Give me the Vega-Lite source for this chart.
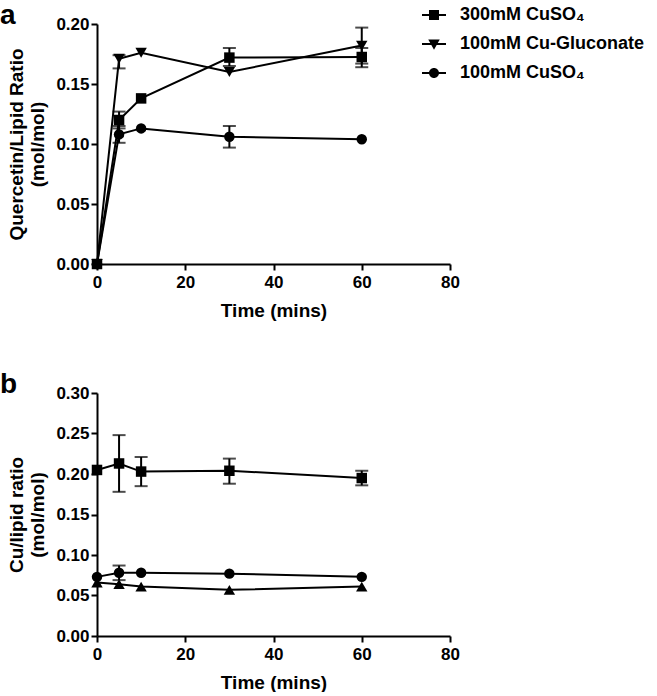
{
  "$schema": "https://vega.github.io/schema/vega-lite/v6.json",
  "background": "white",
  "padding": {"left": 0, "top": 2, "right": 0, "bottom": 0},
  "spacing": 51,
  "config": {
    "font": "Liberation Sans",
    "view": {"stroke": null},
    "axis": {
      "grid": false, "domainColor": "black", "domainWidth": 2, "tickColor": "black", "tickWidth": 2, "tickSize": 6, "labelFlush": false,
      "labelFont": "Liberation Sans", "labelFontWeight": "bold", "labelFontSize": 17, "labelColor": "black",
      "titleFont": "Liberation Sans", "titleFontWeight": "bold", "titleFontSize": 19, "titleColor": "black"
    },
    "axisX": {"labelPadding": 4, "titlePadding": 11},
    "legend": {
      "labelFont": "Liberation Sans", "labelFontWeight": "bold", "labelFontSize": 18, "labelColor": "black", "labelLimit": 400,
      "symbolFillColor": "black", "symbolStrokeColor": "black", "symbolStrokeWidth": 0, "symbolOpacity": 1,
      "symbolSize": 100, "labelOffset": 17, "rowPadding": 11, "title": null
    },
    "title": {"font": "Liberation Sans", "fontWeight": "bold", "fontSize": 28, "color": "black"}
  },
  "datasets": {
    "qa": [
      {"t": 0, "v": 0, "series": "300mM CuSO₄"},
      {"t": 5, "v": 0.120, "series": "300mM CuSO₄", "lo": 0.113, "hi": 0.127},
      {"t": 10, "v": 0.138, "series": "300mM CuSO₄"},
      {"t": 30, "v": 0.172, "series": "300mM CuSO₄", "lo": 0.165, "hi": 0.180},
      {"t": 60, "v": 0.1725, "series": "300mM CuSO₄", "lo": 0.164, "hi": 0.180},
      {"t": 0, "v": 0, "series": "100mM Cu-Gluconate"},
      {"t": 5, "v": 0.171, "series": "100mM Cu-Gluconate", "lo": 0.163, "hi": 0.174},
      {"t": 10, "v": 0.176, "series": "100mM Cu-Gluconate"},
      {"t": 30, "v": 0.160, "series": "100mM Cu-Gluconate"},
      {"t": 60, "v": 0.182, "series": "100mM Cu-Gluconate", "lo": 0.167, "hi": 0.197},
      {"t": 0, "v": 0, "series": "100mM CuSO₄"},
      {"t": 5, "v": 0.108, "series": "100mM CuSO₄", "lo": 0.101, "hi": 0.115},
      {"t": 10, "v": 0.113, "series": "100mM CuSO₄"},
      {"t": 30, "v": 0.106, "series": "100mM CuSO₄", "lo": 0.097, "hi": 0.115},
      {"t": 60, "v": 0.104, "series": "100mM CuSO₄"}
    ],
    "cu": [
      {"t": 0, "v": 0.205, "series": "300mM CuSO₄"},
      {"t": 5, "v": 0.213, "series": "300mM CuSO₄", "lo": 0.178, "hi": 0.248},
      {"t": 10, "v": 0.203, "series": "300mM CuSO₄", "lo": 0.185, "hi": 0.221},
      {"t": 30, "v": 0.204, "series": "300mM CuSO₄", "lo": 0.188, "hi": 0.219},
      {"t": 60, "v": 0.195, "series": "300mM CuSO₄", "lo": 0.186, "hi": 0.204},
      {"t": 0, "v": 0.066, "series": "100mM Cu-Gluconate"},
      {"t": 5, "v": 0.064, "series": "100mM Cu-Gluconate"},
      {"t": 10, "v": 0.061, "series": "100mM Cu-Gluconate"},
      {"t": 30, "v": 0.057, "series": "100mM Cu-Gluconate"},
      {"t": 60, "v": 0.061, "series": "100mM Cu-Gluconate"},
      {"t": 0, "v": 0.073, "series": "100mM CuSO₄"},
      {"t": 5, "v": 0.078, "series": "100mM CuSO₄", "lo": 0.069, "hi": 0.087},
      {"t": 10, "v": 0.078, "series": "100mM CuSO₄"},
      {"t": 30, "v": 0.077, "series": "100mM CuSO₄"},
      {"t": 60, "v": 0.073, "series": "100mM CuSO₄"}
    ]
  },
  "vconcat": [
    {
      "width": 353, "height": 240,
      "title": {"text": "a", "anchor": "start", "frame": "group", "dx": -97, "offset": -15},
      "data": {"name": "qa"},
      "layer": [
        {
          "mark": {"type": "line", "color": "black", "strokeWidth": 2},
          "encoding": {
            "x": {"field": "t", "type": "quantitative", "scale": {"domain": [0, 80]}, "axis": {"values": [0, 20, 40, 60, 80], "title": "Time (mins)"}},
            "y": {"field": "v", "type": "quantitative", "scale": {"domain": [0, 0.2]}, "axis": {"values": [0, 0.05, 0.1, 0.15, 0.2], "format": ".2f", "title": ["Quercetin/Lipid Ratio", "(mol/mol)"], "titlePadding": 8}},
            "detail": {"field": "series"}
          }
        },
        {
          "transform": [{"filter": "isValid(datum.lo)"}],
          "mark": {"type": "rule", "color": "black", "strokeWidth": 2},
          "encoding": {
            "x": {"field": "t", "type": "quantitative"},
            "y": {"field": "lo", "type": "quantitative"},
            "y2": {"field": "hi"}
          }
        },
        {
          "transform": [{"filter": "isValid(datum.lo)"}, {"fold": ["lo", "hi"], "as": ["end", "ev"]}],
          "mark": {"type": "tick", "color": "black", "orient": "horizontal", "size": 13, "thickness": 2},
          "encoding": {
            "x": {"field": "t", "type": "quantitative"},
            "y": {"field": "ev", "type": "quantitative"}
          }
        },
        {
          "transform": [{"filter": "datum.series === '300mM CuSO₄'"}],
          "mark": {"type": "point", "filled": true, "color": "black", "opacity": 1, "size": 110, "shape": "square"},
          "encoding": {"x": {"field": "t", "type": "quantitative"}, "y": {"field": "v", "type": "quantitative"}}
        },
        {
          "transform": [{"filter": "datum.series === '100mM Cu-Gluconate'"}],
          "mark": {"type": "point", "filled": true, "color": "black", "opacity": 1, "size": 130, "shape": "triangle-down"},
          "encoding": {"x": {"field": "t", "type": "quantitative"}, "y": {"field": "v", "type": "quantitative"}}
        },
        {
          "transform": [{"filter": "datum.series === '100mM CuSO₄'"}],
          "mark": {"type": "point", "filled": true, "color": "black", "opacity": 1, "size": 110, "shape": "circle"},
          "encoding": {"x": {"field": "t", "type": "quantitative"}, "y": {"field": "v", "type": "quantitative"}}
        },
        {
          "mark": {"type": "point", "filled": true, "color": "black", "opacity": 0},
          "encoding": {
            "x": {"field": "t", "type": "quantitative"},
            "y": {"field": "v", "type": "quantitative"},
            "shape": {"field": "series", "type": "nominal",
              "scale": {"domain": ["300mM CuSO₄", "100mM Cu-Gluconate", "100mM CuSO₄"],
                "range": ["M-2.4,-0.2H2.4V0.2H-2.4ZM-1,-1H1V1H-1Z", "M-2.4,-0.2H2.4V0.2H-2.4ZM-1.15,-0.9L1.15,-0.9L0,1.15Z", "M-2.4,-0.2H2.4V0.2H-2.4ZM-1,0A1,1,0,1,1,1,0A1,1,0,1,1,-1,0Z"]},
              "legend": {"orient": "none", "legendX": 328, "legendY": -18,
                "encode": {"symbols": {"update": {"fill": {"value": "black"}, "opacity": {"value": 1}}}}}}
          }
        }
      ]
    },
    {
      "width": 353, "height": 243,
      "title": {"text": "b", "anchor": "start", "frame": "group", "dx": -97, "offset": -15},
      "data": {"name": "cu"},
      "layer": [
        {
          "mark": {"type": "line", "color": "black", "strokeWidth": 2},
          "encoding": {
            "x": {"field": "t", "type": "quantitative", "scale": {"domain": [0, 80]}, "axis": {"values": [0, 20, 40, 60, 80], "title": "Time (mins)"}},
            "y": {"field": "v", "type": "quantitative", "scale": {"domain": [0, 0.3]}, "axis": {"values": [0, 0.05, 0.1, 0.15, 0.2, 0.25, 0.3], "format": ".2f", "title": ["Cu/lipid ratio", "(mol/mol)"], "titlePadding": 8}},
            "detail": {"field": "series"}
          }
        },
        {
          "transform": [{"filter": "isValid(datum.lo)"}],
          "mark": {"type": "rule", "color": "black", "strokeWidth": 2},
          "encoding": {
            "x": {"field": "t", "type": "quantitative"},
            "y": {"field": "lo", "type": "quantitative"},
            "y2": {"field": "hi"}
          }
        },
        {
          "transform": [{"filter": "isValid(datum.lo)"}, {"fold": ["lo", "hi"], "as": ["end", "ev"]}],
          "mark": {"type": "tick", "color": "black", "orient": "horizontal", "size": 13, "thickness": 2},
          "encoding": {
            "x": {"field": "t", "type": "quantitative"},
            "y": {"field": "ev", "type": "quantitative"}
          }
        },
        {
          "transform": [{"filter": "datum.series === '300mM CuSO₄'"}],
          "mark": {"type": "point", "filled": true, "color": "black", "opacity": 1, "size": 110, "shape": "square"},
          "encoding": {"x": {"field": "t", "type": "quantitative"}, "y": {"field": "v", "type": "quantitative"}}
        },
        {
          "transform": [{"filter": "datum.series === '100mM Cu-Gluconate'"}],
          "mark": {"type": "point", "filled": true, "color": "black", "opacity": 1, "size": 130, "shape": "triangle-up"},
          "encoding": {"x": {"field": "t", "type": "quantitative"}, "y": {"field": "v", "type": "quantitative"}}
        },
        {
          "transform": [{"filter": "datum.series === '100mM CuSO₄'"}],
          "mark": {"type": "point", "filled": true, "color": "black", "opacity": 1, "size": 110, "shape": "circle"},
          "encoding": {"x": {"field": "t", "type": "quantitative"}, "y": {"field": "v", "type": "quantitative"}}
        },
        {
          "mark": {"type": "point", "filled": true, "color": "black", "opacity": 0},
          "encoding": {
            "x": {"field": "t", "type": "quantitative"},
            "y": {"field": "v", "type": "quantitative"},
            "shape": {"field": "series", "type": "nominal",
              "scale": {"domain": ["300mM CuSO₄", "100mM Cu-Gluconate", "100mM CuSO₄"],
                "range": ["M-2.4,-0.2H2.4V0.2H-2.4ZM-1,-1H1V1H-1Z", "M-2.4,-0.2H2.4V0.2H-2.4ZM0,-1.15L1.15,0.9L-1.15,0.9Z", "M-2.4,-0.2H2.4V0.2H-2.4ZM-1,0A1,1,0,1,1,1,0A1,1,0,1,1,-1,0Z"]},
              "legend": {"orient": "none", "legendX": 328, "legendY": -18,
                "encode": {"symbols": {"update": {"fill": {"value": "black"}, "opacity": {"value": 1}}}}}}
          }
        }
      ]
    }
  ]
}
